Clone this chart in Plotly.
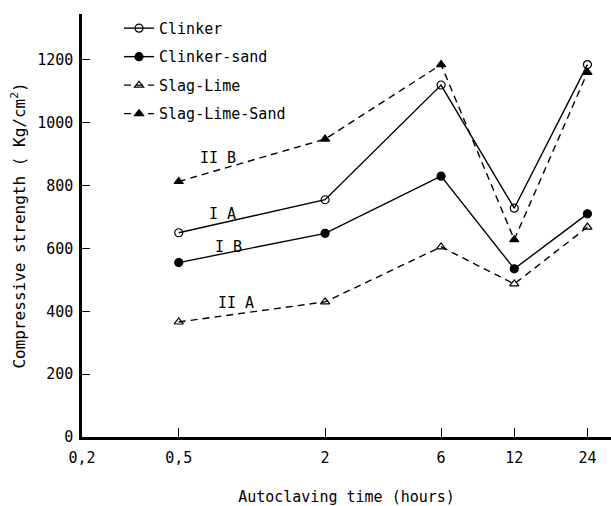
import numpy as np
import plotly.graph_objects as go

hours = [0.5, 2, 6, 12, 24]
clinker = [650, 755, 1120, 728, 1185]
clinker_sand = [555, 648, 830, 535, 710]
slag_lime = [366, 430, 605, 487, 668]
slag_lime_sand = [813, 948, 1185, 628, 1160]

tick_vals = [0.2, 0.5, 2, 6, 12, 24]
tick_text = ["0,2", "0,5", "2", "6", "12", "24"]
y_ticks = [0, 200, 400, 600, 800, 1000, 1200]

labels = [("II B", 0.727, 888), ("I A", 0.76, 710), ("I B", 0.80, 605), ("II A", 0.86, 426)]

FONT = "DejaVu Sans Mono"
fig = go.Figure()

series = [
    ("Clinker", clinker, "solid", "circle-open"),
    ("Clinker-sand", clinker_sand, "solid", "circle"),
    ("Slag-Lime", slag_lime, "dash", "triangle-up-open"),
    ("Slag-Lime-Sand", slag_lime_sand, "dash", "triangle-up"),
]
for i, (name, vals, dash, sym) in enumerate(series):
    fig.add_trace(go.Scatter(
        x=hours, y=vals, name=name, mode="lines+markers",
        legendgroup=f"g{i}",
        line=dict(color="black", width=1.4, dash=dash if dash == "solid" else "7px,5px"),
        marker=dict(symbol=sym, size=8, color="black",
                    line=dict(color="black", width=1.2)),
    ))

for txt, xv, yv in labels:
    fig.add_annotation(x=np.log10(xv), y=yv, text=txt, showarrow=False,
                       font=dict(family=FONT, size=15, color="black"))

fig.update_layout(
    width=611, height=506,
    margin=dict(l=82, r=0, t=14, b=69),
    paper_bgcolor="white", plot_bgcolor="white",
    font=dict(family=FONT, size=15, color="black"),
    showlegend=True,
    legend=dict(x=0.07, y=1.005, xanchor="left", yanchor="top",
                bgcolor="rgba(0,0,0,0)", tracegroupgap=6,
                font=dict(family=FONT, size=15, color="black")),
    xaxis=dict(
        type="log", range=[np.log10(0.2), np.log10(30)],
        tickvals=tick_vals, ticktext=tick_text,
        showline=True, linecolor="black", linewidth=3,
        ticks="inside", ticklen=9, tickwidth=1, tickcolor="black",
        ticklabelstandoff=5,
        showgrid=False, zeroline=False,
        title=dict(text="Autoclaving time (hours)", standoff=26,
                   font=dict(family=FONT, size=15)),
    ),
    yaxis=dict(
        range=[0, 1346], tickvals=y_ticks,
        showline=True, linecolor="black", linewidth=2.5,
        ticks="inside", ticklen=8, tickwidth=1, tickcolor="black",
        ticklabelstandoff=3,
        showgrid=False, zeroline=False,
        title=dict(text="Compressive strength ( Kg/cm<sup>2</sup>)", standoff=8,
                   font=dict(family=FONT, size=16)),
    ),
)

fig.write_html("out.html")
